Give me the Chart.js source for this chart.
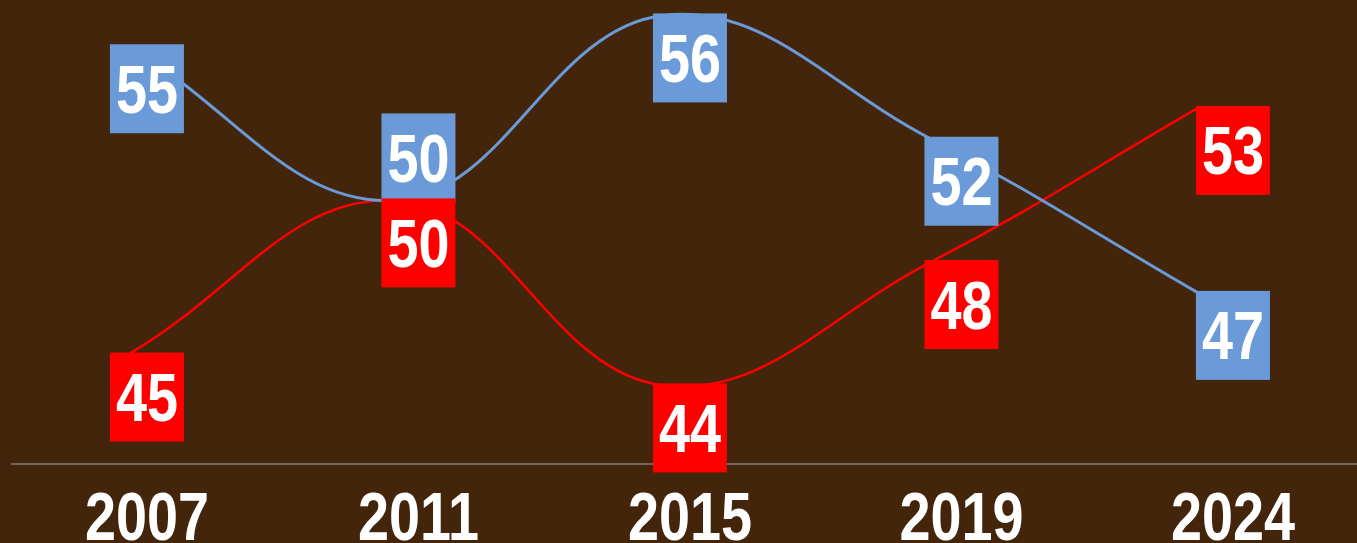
<!DOCTYPE html>
<html>
<head>
<meta charset="utf-8">
<title>2007-2024</title>
<script src="https://cdn.jsdelivr.net/npm/chart.js@4.4.1/dist/chart.umd.min.js"></script>
<style>
  html, body { margin: 0; padding: 0; background: #42250a; }
  #wrap { width: 1357px; height: 543px; position: relative; }
</style>
</head>
<body>
<div id="wrap"><canvas id="chart"></canvas></div>
<script>
  // Data
  const years = ['2007', '2011', '2015', '2019', '2024'];
  const blueValues = [55, 50, 56, 52, 47];
  const redValues = [45, 50, 44, 48, 53];

  const BLUE = '#6a9bd8';
  const RED = '#ff0000';
  const FONT = '"Liberation Sans", Arial, sans-serif';
  const NARROW = 0.82; // Arial Narrow look: squeeze the bold face sideways
  const BOX_W = 74;
  const BOX_H = 89;

  function toPoints(values) {
    return values.map((v, i) => ({ x: i, y: v }));
  }

  function narrowText(ctx, text, x, y) {
    ctx.save();
    ctx.translate(x, y);
    ctx.scale(NARROW, 1);
    ctx.fillText(text, 0, 0);
    ctx.restore();
  }

  // Value boxes hang under each point; when two boxes would collide, the upper one goes above its point
  const boxLabels = {
    id: 'boxLabels',
    afterDatasetsDraw(chart) {
      const ctx = chart.ctx;
      const xs = chart.scales.x;
      const ys = chart.scales.y;
      const sets = chart.data.datasets;
      ctx.save();
      ctx.font = 'bold 68px ' + FONT;
      ctx.textAlign = 'center';
      ctx.textBaseline = 'alphabetic';
      years.forEach((yr, i) => {
        const py = sets.map(ds => ys.getPixelForValue(ds.data[i].y));
        sets.forEach((ds, d) => {
          const other = py[1 - d];
          let top = py[d] - 2;
          const upper = py[d] < other || (py[d] === other && d === 0);
          if (Math.abs(py[d] - other) < BOX_H && upper) top = py[d] - BOX_H + 2;
          const cx = xs.getPixelForValue(i);
          ctx.fillStyle = ds.borderColor === RED ? RED : BLUE;
          ctx.fillRect(cx - BOX_W / 2, top, BOX_W, BOX_H);
          ctx.fillStyle = '#ffffff';
          narrowText(ctx, String(ds.data[i].y), cx, top + BOX_H / 2 + 24);
        });
      });
      ctx.restore();
    }
  };

  // Year labels under the axis, same narrow bold face
  const yearLabels = {
    id: 'yearLabels',
    afterDraw(chart) {
      const ctx = chart.ctx;
      const xs = chart.scales.x;
      ctx.save();
      ctx.font = 'bold 68px ' + FONT;
      ctx.fillStyle = '#ffffff';
      ctx.textAlign = 'center';
      ctx.textBaseline = 'alphabetic';
      years.forEach((yr, i) => {
        narrowText(ctx, yr, xs.getPixelForValue(i), chart.chartArea.bottom + 76);
      });
      ctx.restore();
    }
  };

  const ctx = document.getElementById('chart').getContext('2d');
  new Chart(ctx, {
    type: 'line',
    data: {
      datasets: [{
        label: 'blue',
        data: toPoints(blueValues),
        borderColor: BLUE,
        borderWidth: 3,
        tension: 0.4,
        pointRadius: 0,
        xAxisID: 'xl'
      }, {
        label: 'red',
        data: toPoints(redValues),
        borderColor: RED,
        borderWidth: 2.5,
        tension: 0.4,
        pointRadius: 0,
        xAxisID: 'xl'
      }]
    },
    options: {
      responsive: true,
      maintainAspectRatio: false,
      animation: false,
      layout: { padding: { left: 12, right: 0, top: 0, bottom: 79 } },
      plugins: {
        legend: { display: false },
        tooltip: { enabled: false }
      },
      scales: {
        x: {
          type: 'linear',
          min: -0.497,
          max: 4.457,
          afterBuildTicks: axis => { axis.ticks = years.map((y, i) => ({ value: i })); },
          grid: { display: false, drawTicks: false },
          border: { display: true, color: '#6e665e', width: 2 },
          ticks: { display: false }
        },
        xl: {
          type: 'linear',
          display: false,
          min: -0.434,
          max: 4.594
        },
        y: {
          display: false,
          min: 41.45,
          max: 56.5
        }
      }
    },
    plugins: [boxLabels, yearLabels]
  });
</script>
</body>
</html>
